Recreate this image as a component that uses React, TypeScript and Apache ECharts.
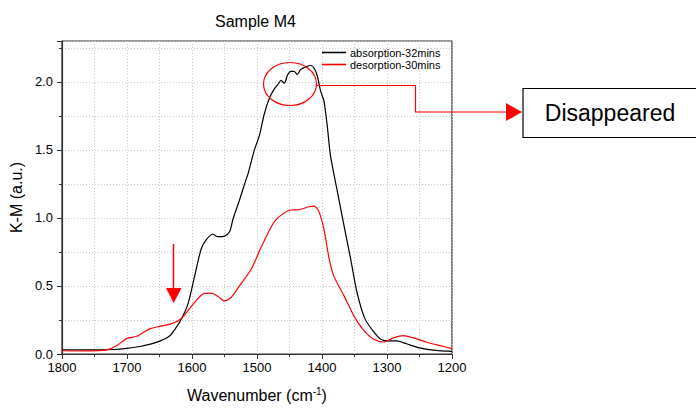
import React, { useEffect, useRef } from "react";
import * as echarts from "echarts";

const absX = [1800, 1770, 1740, 1720, 1700, 1680, 1655, 1635, 1625, 1616, 1606, 1596, 1586, 1578, 1568, 1560, 1550, 1542, 1537, 1527, 1517, 1514, 1504, 1496, 1489, 1481, 1473, 1468, 1463, 1458, 1453, 1448, 1443, 1438, 1433, 1425, 1417, 1412, 1407, 1402, 1397, 1392, 1387, 1376, 1366, 1356, 1346, 1334, 1320, 1310, 1300, 1285, 1270, 1250, 1225, 1200];
const absY = [0.03, 0.03, 0.03, 0.033, 0.042, 0.055, 0.085, 0.13, 0.19, 0.26, 0.37, 0.57, 0.77, 0.84, 0.88, 0.862, 0.866, 0.9, 0.99, 1.13, 1.28, 1.32, 1.5, 1.61, 1.76, 1.88, 1.95, 1.98, 2.01, 1.99, 2.05, 2.077, 2.077, 2.055, 2.09, 2.11, 2.12, 2.1, 2.04, 1.93, 1.86, 1.68, 1.46, 1.185, 0.94, 0.7, 0.45, 0.26, 0.16, 0.11, 0.097, 0.097, 0.075, 0.045, 0.026, 0.02];

const desX = [1800, 1770, 1745, 1731, 1716, 1705, 1700, 1685, 1675, 1665, 1650, 1635, 1621, 1611, 1596, 1581, 1570, 1560, 1550, 1540, 1527, 1509, 1494, 1478, 1468, 1448, 1435, 1422, 1412, 1405, 1397, 1389, 1382, 1366, 1351, 1336, 1321, 1305, 1290, 1275, 1259, 1239, 1218, 1200];
const desY = [0.024, 0.022, 0.025, 0.03, 0.06, 0.1, 0.115, 0.13, 0.158, 0.185, 0.203, 0.218, 0.245, 0.29, 0.38, 0.445, 0.447, 0.423, 0.39, 0.415, 0.5, 0.623, 0.78, 0.935, 1.0, 1.058, 1.06, 1.08, 1.087, 1.05, 0.916, 0.7, 0.574, 0.427, 0.28, 0.175, 0.11, 0.088, 0.118, 0.135, 0.118, 0.086, 0.061, 0.04];

const seriesNames = ["absorption-32mins", "desorption-30mins"];
const xTicks = { min: 1200, max: 1800, interval: 100 };
const yTicks = { min: 0, max: 2.3, major: 0.5, minor: 0.25 };

const FONT = "'Liberation Sans', Arial, sans-serif";

export default function App() {
  const ref = useRef<HTMLDivElement>(null);
  useEffect(() => {
    if (!ref.current) return;
    const chart = echarts.init(ref.current, undefined, { renderer: "svg" });
    const dotted = { show: true, lineStyle: { color: "#c8c8c8", type: [1, 2] as any, width: 1 } };
    chart.setOption({
      animation: false,
      backgroundColor: "#fff",
      textStyle: { fontFamily: FONT },
      title: {
        text: "Sample M4",
        left: 215,
        top: 13,
        padding: 0,
        textStyle: { fontSize: 16, fontWeight: "normal", color: "#000", fontFamily: FONT },
      },
      legend: {
        data: seriesNames,
        orient: "vertical",
        left: 322,
        top: 47,
        padding: 0,
        itemGap: 1,
        itemWidth: 24,
        itemHeight: 1.6,
        icon: "rect",
        textStyle: { fontSize: 11, color: "#000", fontFamily: FONT, padding: [0, 0, 0, -1] },
      },
      grid: {
        left: 60,
        right: 244,
        top: 41,
        bottom: 53,
        show: true,
        borderColor: "#333",
        borderWidth: 1.2,
      },
      xAxis: {
        type: "value",
        inverse: true,
        min: xTicks.min,
        max: xTicks.max,
        interval: xTicks.interval,
        name: "{a|Wavenumber (cm}{s|-1}{a|)}",
        nameLocation: "middle",
        nameGap: 32,
        nameTextStyle: {
          rich: {
            a: { fontSize: 16, color: "#000", fontFamily: FONT },
            s: { fontSize: 10, color: "#000", fontFamily: FONT, padding: [0, 0, 8, 0] },
          },
        },
        axisLine: { lineStyle: { color: "#333", width: 1.2 } },
        axisTick: { length: 5, lineStyle: { color: "#333" } },
        minorTick: { show: true, splitNumber: 2, length: 3, lineStyle: { color: "#333" } },
        axisLabel: {
          fontSize: 13,
          color: "#000",
          margin: 7,
          fontFamily: FONT,
          formatter: (v: number) => String(Math.round(v)),
        },
        splitLine: dotted,
        minorSplitLine: dotted,
      },
      yAxis: [
        {
          type: "value",
          min: yTicks.min,
          max: yTicks.max,
          interval: yTicks.major,
          name: "K-M (a.u.)",
          nameLocation: "middle",
          nameGap: 33,
          nameTextStyle: { fontSize: 16, color: "#000", fontFamily: FONT },
          axisLine: { show: true, lineStyle: { color: "#333", width: 1.2 } },
          axisTick: { show: true, length: 5, lineStyle: { color: "#333" } },
          axisLabel: {
            fontSize: 13,
            color: "#000",
            margin: 9,
            fontFamily: FONT,
            formatter: (v: number) => {
              const k = v / yTicks.major;
              return Math.abs(k - Math.round(k)) < 1e-6 ? v.toFixed(1) : "";
            },
          },
          splitLine: { show: false },
        },
        {
          type: "value",
          position: "left",
          min: yTicks.min,
          max: yTicks.max,
          interval: yTicks.minor,
          axisLine: { show: false },
          axisTick: { show: true, length: 3, lineStyle: { color: "#333" } },
          axisLabel: { show: false },
          splitLine: dotted,
        },
      ],
      series: [
        {
          name: seriesNames[0],
          type: "line",
          yAxisIndex: 0,
          symbol: "none",
          smooth: 0.25,
          lineStyle: { color: "#000", width: 1.2 },
          itemStyle: { color: "#000" },
          data: absX.map((x, i) => [x, absY[i]]),
        },
        {
          name: seriesNames[1],
          type: "line",
          yAxisIndex: 0,
          symbol: "none",
          smooth: 0.25,
          lineStyle: { color: "#ff0000", width: 1.2 },
          itemStyle: { color: "#ff0000" },
          data: desX.map((x, i) => [x, desY[i]]),
        },
      ],
      graphic: [
        {
          type: "ellipse",
          shape: { cx: 290, cy: 84, rx: 26.5, ry: 21.5 },
          style: { fill: "none", stroke: "#ff0000", lineWidth: 1.2 },
          z: 100,
        },
        {
          type: "polyline",
          shape: { points: [[317, 85.5], [415.5, 85.5], [415.5, 112], [508, 112]] },
          style: { fill: "none", stroke: "#ff0000", lineWidth: 1.2 },
          z: 100,
        },
        {
          type: "polygon",
          shape: { points: [[506, 103], [522, 112], [506, 121]] },
          style: { fill: "#ff0000", stroke: "none" },
          z: 100,
        },
        {
          type: "rect",
          shape: { x: 523, y: 88.5, width: 200, height: 49 },
          style: { fill: "#fff", stroke: "#000", lineWidth: 1.2 },
          z: 100,
        },
        {
          type: "text",
          x: 610,
          y: 113,
          style: {
            text: "Disappeared",
            fontSize: 23,
            fontFamily: FONT,
            fill: "#000",
            align: "center",
            verticalAlign: "middle",
          },
          z: 101,
        },
        {
          type: "line",
          shape: { x1: 173.5, y1: 244, x2: 173.5, y2: 289 },
          style: { stroke: "#ff0000", lineWidth: 1.5 },
          z: 100,
        },
        {
          type: "polygon",
          shape: { points: [[166, 288], [181.5, 288], [173.7, 303]] },
          style: { fill: "#ff0000", stroke: "none" },
          z: 100,
        },
      ],
    });
    return () => chart.dispose();
  }, []);
  return <div ref={ref} style={{ width: 696, height: 408, position: "absolute", left: 0, top: 0 }} />;
}
